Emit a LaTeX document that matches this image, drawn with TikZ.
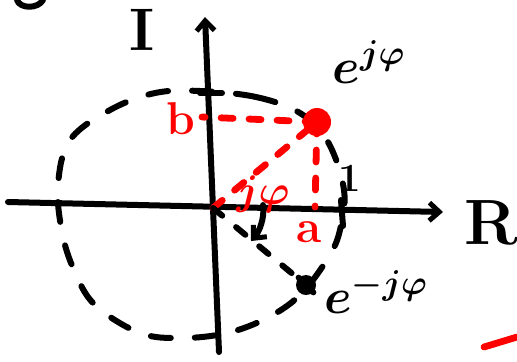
\documentclass[tikz,border=0pt]{standalone}
\usetikzlibrary{arrows.meta}
\begin{document}
\begin{tikzpicture}[x=0.5pt,y=-0.5pt,
  ink/.style={line width=3pt,line cap=round,line join=round},
  circdash/.style={ink,dash pattern=on 10pt off 12pt},
  reddash/.style={ink,red,line width=3.4pt,dash pattern=on 6pt off 8pt},
  blackdash/.style={ink,dash pattern=on 6pt off 9pt},
  lbl/.style={inner sep=0pt,font=\bfseries\boldmath},
  redlbl/.style={lbl,text=red},
  tip/.style={-{Straight Barb[length=5pt,width=9pt,line width=2.5pt]}}
]
\useasboundingbox (0,0) rectangle (517,361);
% key points
\coordinate (O) at (213,208);
\coordinate (Xl) at (8,202);
\coordinate (Xr) at (443,212);
\coordinate (Yt) at (205,17);
\coordinate (Yb) at (219,352);
\coordinate (Bb) at (202,117);
\coordinate (Aa) at (315,207);
\coordinate (A0) at (263,205);
\coordinate (A1) at (251,241);
% unit circle
\draw[circdash] plot[smooth cycle,tension=0.6] coordinates {
 (200,91) (256,97) (300,113) (328,142) (344,190) (340,230) (328,258)
 (300,295) (267,318) (227,333) (182,338) (140,333) (95,305) (74,270)
 (62,232) (58,185) (70,140) (110,110) (155,93)};
% axes
\draw[ink,tip] (Xl) -- (Xr);
\draw[ink,tip] (Yb) -- (Yt);
\draw[ink] (200,93) -- (222,93);
\draw[ink] (341,200) -- (343,226);
% points
\node[circle,fill=red,inner sep=0pt,minimum size=14pt] (P) at (317,122) {};
\node[circle,fill=black,inner sep=0pt,minimum size=10pt] (Q) at (306,285) {};
\draw[ink] (Q.north west) -- (Q.south east);
% red projections
\draw[reddash] (O) -- (P.center);
\draw[reddash] (P.center) -- (Bb);
\draw[reddash] (P.center) -- (Aa);
% conjugate
\draw[blackdash] (O) -- (Q);
\draw[ink,tip] (A0) .. controls (265,218) and (259,232) .. (A1);
% labels
\node[lbl,font=\fontsize{30}{30}\selectfont\bfseries] (I) at (142,30) {I};
\node[lbl,font=\fontsize{32}{32}\selectfont\bfseries] (R) at (491,223) {R};
\node[lbl,font=\fontsize{24}{24}\selectfont\boldmath] (Ep) at (369,62) {$e^{j\varphi}$};
\node[lbl,font=\fontsize{24}{24}\selectfont\boldmath] (Em) at (376,292) {$e^{-j\varphi}$};
\node[lbl,font=\fontsize{20}{20}\selectfont\bfseries] (one) at (350,178) {1};
\node[redlbl,font=\fontsize{23}{23}\selectfont\bfseries] (b) at (181,119) {b};
\node[redlbl,font=\fontsize{23}{23}\selectfont\bfseries] (a) at (309,232) {a};
\node[redlbl,font=\fontsize{22}{22}\selectfont\boldmath] (phi) at (263,194) {$j\varphi$};
% fragments at the edges
\draw[ink] (17,0) .. controls (20,9) and (38,9) .. (43,0);
\draw[ink,red,line width=3.4pt] (484,347) -- (517,337);
\end{tikzpicture}
\end{document}
